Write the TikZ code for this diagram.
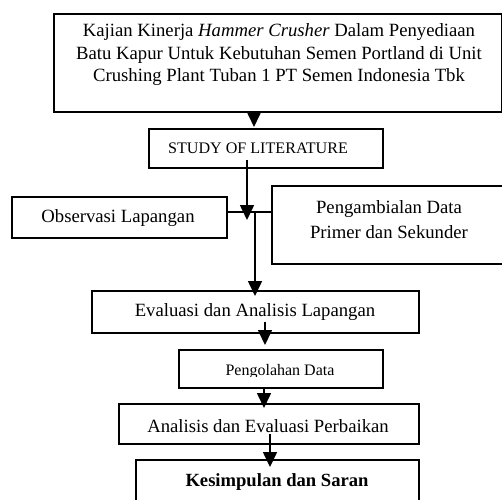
\documentclass[tikz,border=0pt]{standalone}
\usepackage{fontspec}
\setmainfont{Liberation Serif}
\usetikzlibrary{arrows.meta}
\begin{document}
\begin{tikzpicture}[x=1pt,y=-1pt,
  box/.style={draw,line width=1.8pt,inner sep=0pt,anchor=north west},
  txt/.style={inner sep=0pt,align=center,font=\fontsize{18.7}{22.5}\selectfont},
  conn/.style={line width=1.6pt},
  arr/.style={line width=1.6pt,-{Triangle[width=14pt,length=15pt]}}]
\useasboundingbox (0,0) rectangle (502,499);
% boxes
\node[box,minimum width=448pt,minimum height=98pt] (top) at (53,13) {};
\node[box,minimum width=234pt,minimum height=39pt] (study) at (148,128) {};
\node[box,minimum width=215pt,minimum height=41pt] (obs) at (11,196) {};
\node[box,minimum width=232pt,minimum height=78pt] (pen) at (271,185) {};
\node[box,minimum width=327pt,minimum height=42pt] (eval) at (91,290) {};
\node[box,minimum width=204pt,minimum height=38pt] (olah) at (178,349) {};
\node[box,minimum width=300pt,minimum height=40pt] (anal) at (118,403) {};
\node[box,minimum width=283pt,minimum height=50pt] (kes) at (135,459) {};
% texts
\node[txt] (toptext) at (279,55) {Kajian Kinerja \textit{Hammer Crusher} Dalam Penyediaan\\Batu Kapur Untuk Kebutuhan Semen Portland di Unit\\Crushing Plant Tuban 1 PT Semen Indonesia Tbk};
\node[txt,font=\fontsize{16.1}{18}\selectfont] (studytext) at (258,148) {STUDY OF LITERATURE};
\node[txt] (obstext) at (118,218) {Observasi Lapangan};
\node[txt,font=\fontsize{18.7}{25}\selectfont] (pentext) at (389,220) {Pengambialan Data\\Primer dan Sekunder};
\node[txt] (evaltext) at (255,312) {Evaluasi dan Analisis Lapangan};
\begin{scope}
\clip (179,350) rectangle (381,376);
\node[txt,font=\fontsize{16}{18}\selectfont] (olahtext) at (280,372) {Pengolahan Data};
\end{scope}
\node[txt] (analtext) at (268,426) {Analisis dan Evaluasi Perbaikan};
\node[txt,font=\fontsize{18.6}{22}\selectfont\bfseries] (kestext) at (277,482) {Kesimpulan dan Saran};
% connectors
\coordinate (a1) at (254,127);
\draw[arr] (a1 |- top.south) -- (a1);
\coordinate (s1) at (247,160);
\coordinate (s2) at (247,220);
\draw[arr] (s1) -- (s2);
\coordinate (j) at (255,212);
\draw[conn] (obs.east |- j) -- (pen.west |- j);
\coordinate (e1) at (255,296);
\draw[arr] (j) -- (e1);
\coordinate (p1) at (265,322);
\coordinate (p2) at (265,345);
\draw[arr] (p1) -- (p2);
\coordinate (q1) at (264,408);
\draw[arr] (q1 |- olah.south) -- (q1);
\coordinate (k1) at (270,434);
\coordinate (k2) at (270,467);
\draw[arr] (k1) -- (k2);
\end{tikzpicture}
\end{document}
